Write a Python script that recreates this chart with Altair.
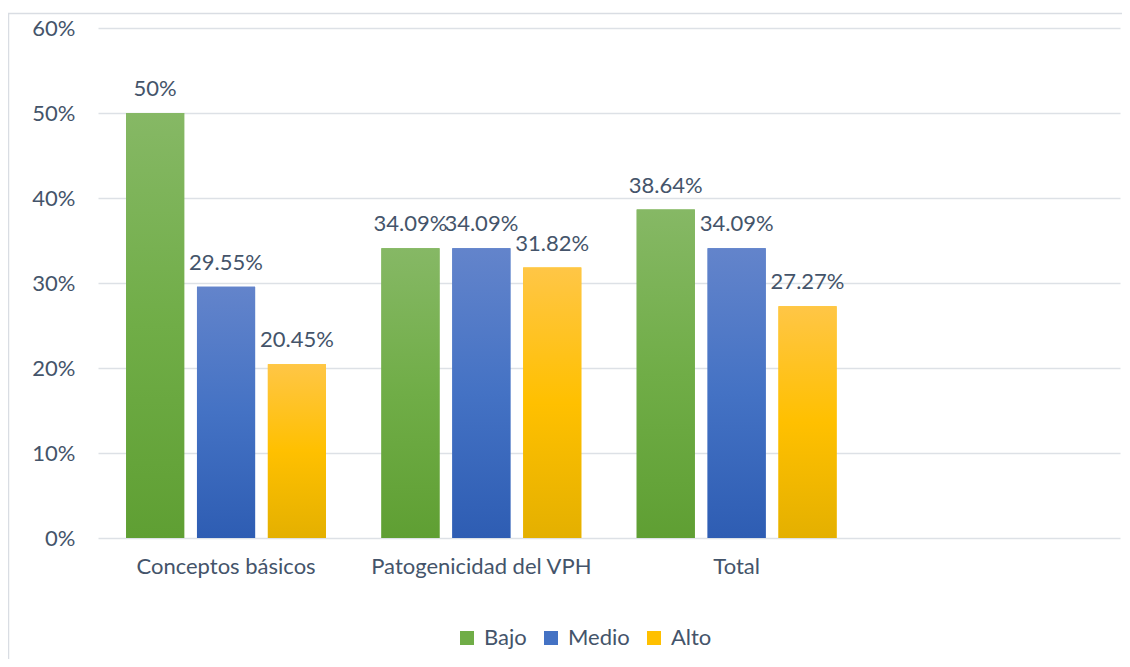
import altair as alt
import pandas as pd

categories = ["Conceptos básicos", "Patogenicidad del VPH", "Total"]
series = ["Bajo", "Medio", "Alto"]
bajo = [0.50, 0.3409, 0.3864]
medio = [0.2955, 0.3409, 0.3409]
alto = [0.2045, 0.3182, 0.2727]
y_ticks = [0, 0.1, 0.2, 0.3, 0.4, 0.5, 0.6]

solid = ["#70AD47", "#4472C4", "#FFC000"]
grad_stops = {
    "Bajo": ["#86B865", "#70AD47", "#5F9F33"],
    "Medio": ["#6384CB", "#4472C4", "#2E5DB3"],
    "Alto": ["#FFC646", "#FFC000", "#E4B000"],
}

rows = []
for s, vals in zip(series, [bajo, medio, alto]):
    for c, v in zip(categories, vals):
        rows.append({"cat": c, "serie": s, "value": v})
df = pd.DataFrame(rows)

TXT = "#44546A"
FONT = "Lato"
FS = 22

x_enc = alt.X(
    "cat:N",
    scale=alt.Scale(domain=categories + [" "], paddingInner=0.217, paddingOuter=0.11),
    axis=alt.Axis(title=None, labelAngle=0, ticks=False, domain=False, labelPadding=18,
                  labelFontSize=FS, labelColor=TXT, labelFont=FONT, grid=False, labelLimit=0),
)
xo_enc = alt.XOffset("serie:N", scale=alt.Scale(domain=series, paddingInner=0.18, paddingOuter=0))
y_enc = alt.Y(
    "value:Q",
    scale=alt.Scale(domain=[0, 0.6], nice=False),
    axis=alt.Axis(title=None, values=y_ticks, format=".0%", ticks=False, domain=False,
                  labelPadding=23, labelFontSize=FS, labelColor=TXT, labelFont=FONT,
                  gridColor="#DDE1E6", gridWidth=1.5),
)

base = alt.Chart(df)

legend_bars = base.mark_bar().encode(
    x=x_enc, xOffset=xo_enc, y=y_enc,
    color=alt.Color("serie:N", scale=alt.Scale(domain=series, range=solid),
                    legend=alt.Legend(orient="none", legendX=358, legendY=599,
                                      direction="horizontal", title=None,
                                      symbolType="square", symbolSize=196, symbolStrokeWidth=0,
                                      labelFontSize=FS, labelColor=TXT, labelFont=FONT,
                                      columnPadding=13, labelOffset=6)),
)

grad_layers = []
for s in series:
    c = grad_stops[s]
    g = alt.Gradient(gradient="linear", x1=0, x2=0, y1=0, y2=1,
                     stops=[alt.GradientStop(color=c[0], offset=0),
                            alt.GradientStop(color=c[1], offset=0.5),
                            alt.GradientStop(color=c[2], offset=1)])
    grad_layers.append(
        base.transform_filter(alt.datum.serie == s).mark_bar(fill=g).encode(
            x=x_enc, xOffset=xo_enc, y=y_enc)
    )

labels = base.mark_text(baseline="alphabetic", dy=-17, fontSize=FS, color=TXT, font=FONT).encode(
    x=x_enc, xOffset=xo_enc, y=y_enc,
    text=alt.Text("value:Q", format=".2~%"),
)

border = alt.Chart(pd.DataFrame({"a": [0]})).mark_rect(
    filled=False, stroke="#D9DDE3", strokeWidth=1.5
).encode(x=alt.value(-89.5), x2=alt.value(1200), y=alt.value(-14.5), y2=alt.value(800))

chart = alt.layer(border, legend_bars, *grad_layers, labels).properties(
    width=1022, height=510,
    autosize=alt.AutoSizeParams(type="none"),
    padding={"left": 90, "top": 20, "right": 2, "bottom": 121},
).configure_view(stroke=None)

chart.save("out.html", embed_options={"renderer": "svg", "actions": False})
